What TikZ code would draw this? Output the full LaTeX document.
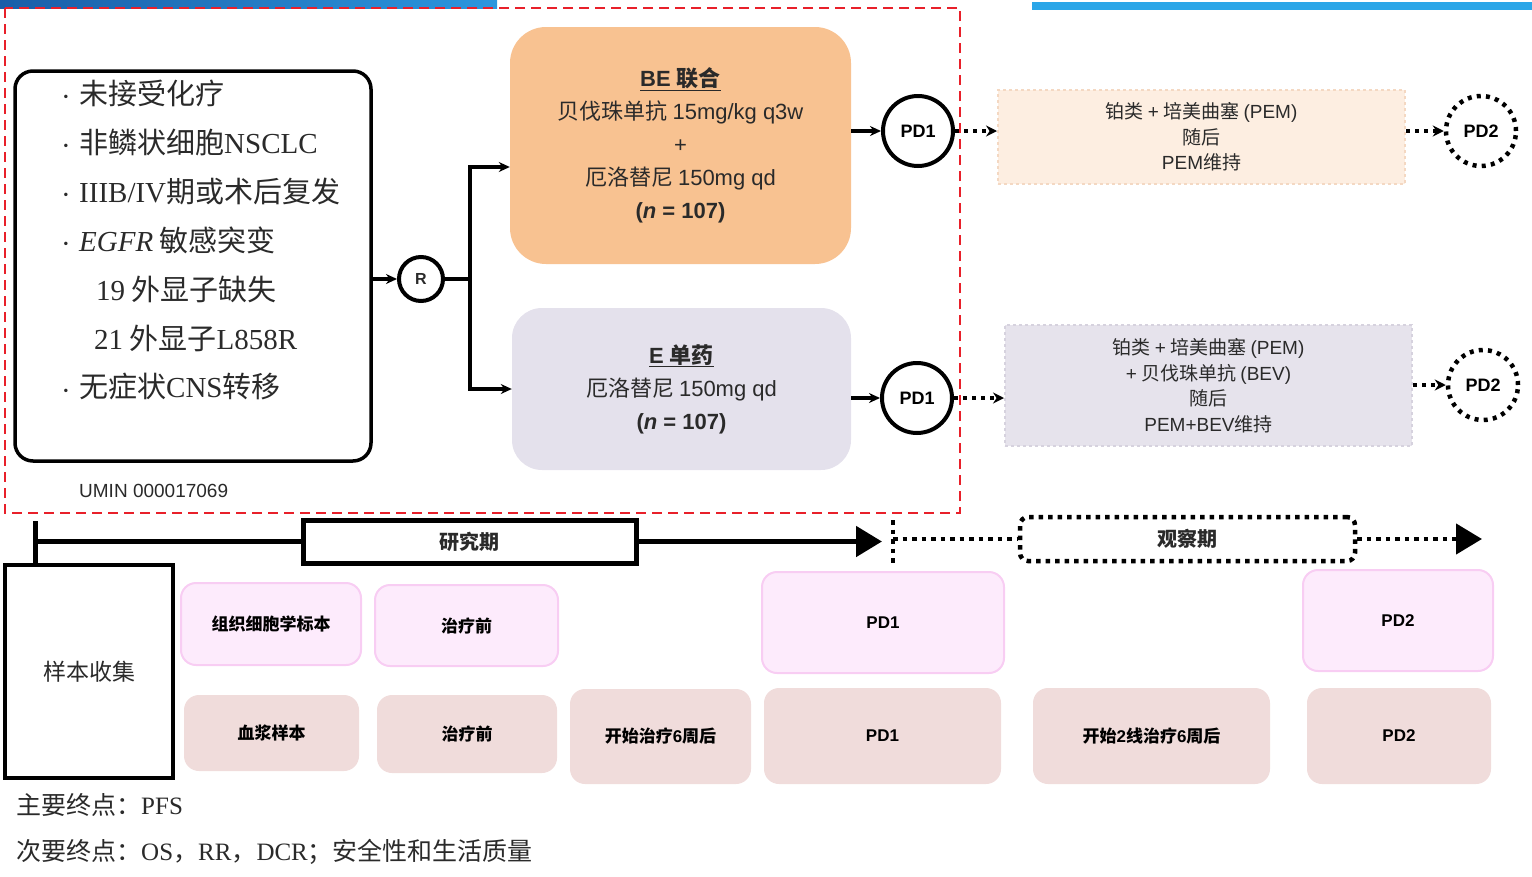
\documentclass[tikz,border=0pt]{standalone}
\usepackage{fontspec}
\setmainfont{Noto Sans CJK SC}
\newfontfamily\ls{Liberation Sans}
\newfontfamily\ser{Liberation Serif}
\usetikzlibrary{arrows.meta,calc}
\definecolor{barA}{HTML}{1A5EA8}
\definecolor{barB}{HTML}{2B96DE}
\definecolor{barC}{HTML}{2AA6E8}
\definecolor{redd}{HTML}{E8202A}
\definecolor{orng}{HTML}{F8C291}
\definecolor{lgray}{HTML}{E4E1EC}
\definecolor{peach}{HTML}{FDEEE1}
\definecolor{peachB}{HTML}{F4D8C2}
\definecolor{lav}{HTML}{E6E3EC}
\definecolor{lavB}{HTML}{D6D2DE}
\definecolor{pinkF}{HTML}{FDEBFC}
\definecolor{pinkB}{HTML}{F8CDF3}
\definecolor{brwn}{HTML}{F0DCDB}
\definecolor{txt}{HTML}{2A2A2A}
\begin{document}
\begin{tikzpicture}[x=1pt,y=-1pt,
  crit/.style={draw=black,line width=3.5,rounded corners=18,inner sep=0},
  crittext/.style={anchor=west,inner sep=0,text=txt,font=\fontsize{29}{34}\selectfont},
  bullet/.style={inner sep=0,text=txt,font=\ser\fontsize{29}{34}\selectfont},
  conn/.style={line width=3.5,-{Stealth[length=11,width=10]}},
  plain/.style={line width=3.5},
  pdc/.style={circle,draw=black,line width=4,minimum size=70,inner sep=0,font=\ls\bfseries\fontsize{18}{20}\selectfont},
  pdd/.style={circle,draw=black,line width=4.5,dash pattern=on 4 off 5.2,minimum size=70,inner sep=0,font=\ls\bfseries\fontsize{18}{20}\selectfont},
  dotconn/.style={line width=4,dash pattern=on 4 off 5,-{Stealth[length=11,width=11]}},
  armbox/.style={rounded corners=36,inner sep=0,align=center,text=txt,font=\fontsize{22}{33}\selectfont},
  dbox/.style={line width=2,dash pattern=on 3 off 3,inner sep=0,align=center,text=txt,font=\fontsize{19}{25.5}\selectfont},
  tl/.style={line width=5},
  dotl/.style={line width=4.5,dash pattern=on 4.5 off 5},
  pinkbox/.style={fill=pinkF,draw=pinkB,line width=2,rounded corners=15,inner sep=0,font=\bfseries\fontsize{17}{20}\selectfont,text=black},
  brbox/.style={fill=brwn,rounded corners=15,inner sep=0,font=\bfseries\fontsize{17}{20}\selectfont,text=black},
]
\useasboundingbox (0,0) rectangle (1532,876);
% top bars
\shade[left color=barA,right color=barB] (0,0) rectangle (497,8);
\fill[barC] (1032,2) rectangle (1532,10);
% red dashed frame
\draw[redd,line width=2.5,dash pattern=on 10 off 6] (5,8) rectangle (960,513);

% criteria box
\node[crit,minimum width=356,minimum height=390] (crit) at (193,266) {};
\foreach \i/\y in {1/93,2/142,3/191,4/240,7/387}{
  \node[bullet] (b\i) at (66,\y+8) {·};
}
\node[crittext] (c1) at (79,93) {未接受化疗};
\node[crittext] (c2) at (79,142) {非鳞状细胞{\ser NSCLC}};
\node[crittext] (c3) at (79,191) {{\ser IIIB/IV}期或术后复发};
\node[crittext] (c4) at (79,240) {{\ser\itshape EGFR} 敏感突变};
\node[crittext] (c5) at (96,289) {{\ser 19} 外显子缺失};
\node[crittext] (c6) at (94,338) {{\ser 21} 外显子{\ser L858R}};
\node[crittext] (c7) at (79,387) {无症状{\ser CNS}转移};
\node[anchor=west,inner sep=0,text=txt,font=\ls\fontsize{19}{22}\selectfont] (umin) at (79,491) {UMIN 000017069};

% randomisation
\node[circle,draw=black,line width=4,minimum size=44,inner sep=0,font=\ls\bfseries\fontsize{16}{18}\selectfont,text=txt] (R) at (421,279) {R};
\draw[conn] (crit.east |- R.west) -- (R.west);
\coordinate (br) at (470,279);
\draw[plain] (R.east) -- (br);

% arms
\node[armbox,fill=orng,minimum width=341,minimum height=237] (be) at (680.5,145.5)
  {{\ls\bfseries\underline{BE \mbox{\rmfamily\bfseries 联合}}}\\贝伐珠单抗 {\ls 15mg/kg q3w}\\{\ls +}\\厄洛替尼 {\ls 150mg qd}\\{\ls\bfseries (\textit{n} = 107)}};
\node[armbox,rounded corners=30,fill=lgray,minimum width=339,minimum height=162] (ge) at (681.5,389)
  {{\ls\bfseries\underline{E \mbox{\rmfamily\bfseries 单药}}}\\厄洛替尼 {\ls 150mg qd}\\{\ls\bfseries (\textit{n} = 107)}};
\draw[conn] (br) |- ($(be.west)+(0,21.5)$);
\draw[conn] (br) |- (ge.west);

% PD1 circles
\node[pdc] (p1) at (918,131) {PD1};
\node[pdc] (p2) at (917,398) {PD1};
\draw[conn,line width=4] (be.east |- p1.west) -- (p1.west);
\draw[conn,line width=4] (ge.east |- p2.west) -- (p2.west);

% second-line boxes
\node[dbox,fill=peach,draw=peachB,minimum width=407,minimum height=94] (tb) at (1201.5,137)
  {铂类 {\ls +} 培美曲塞 {\ls (PEM)}\\随后\\{\ls PEM}维持};
\node[dbox,fill=lav,draw=lavB,minimum width=407,minimum height=121] (bb) at (1208.5,385.5)
  {铂类 {\ls +} 培美曲塞 {\ls (PEM)}\\{\ls +} 贝伐珠单抗 {\ls (BEV)}\\随后\\{\ls PEM+BEV}维持};
\draw[dotconn] (p1.east) -- (p1.east -| tb.west);
\draw[dotconn] (p2.east) -- (p2.east -| bb.west);

% PD2 circles
\node[pdd] (q1) at (1481,131) {PD2};
\node[pdd] (q2) at (1483,385) {PD2};
\draw[dotconn] (tb.east |- q1.west) -- (q1.west);
\draw[dotconn] (bb.east |- q2.west) -- (q2.west);

% timeline
\node[draw=black,line width=3.5,minimum width=168,minimum height=213,inner sep=0,text=txt,font=\fontsize{23}{26}\selectfont] (smp) at (89,671.5) {样本收集};
\coordinate (ttop) at (35,521);
\draw[tl] (ttop) -- (ttop |- smp.north);
\node[draw=black,line width=5,minimum width=333,minimum height=43,inner sep=0,text=txt,font=\bfseries\fontsize{20}{22}\selectfont] (study) at (469.5,541.5) {研究期};
\draw[tl] (ttop |- study.west) -- (study.west);
\coordinate (tend) at (882,541.5);
\draw[tl,-{Triangle[length=26,width=30]}] (study.east) -- (tend);

\coordinate (otop) at (893,520);
\coordinate (obot) at (893,565);
\draw[dotl] (otop) -- (obot);
\node[draw=black,dotl,rounded corners=8,minimum width=335,minimum height=44,inner sep=0,text=txt,font=\bfseries\fontsize{20}{22}\selectfont] (obs) at (1187.5,539) {观察期};
\draw[dotl] (otop |- obs.west) -- (obs.west);
\coordinate (oend) at (1482,539);
\draw[dotl,-{Triangle[length=26,width=30]}] (obs.east) -- (oend);

% sample boxes
\node[pinkbox,minimum width=180,minimum height=82] (s1) at (271,624) {组织细胞学标本};
\node[pinkbox,minimum width=183,minimum height=81] (s2) at (466.5,625.5) {治疗前};
\node[pinkbox,minimum width=242,minimum height=101] (s3) at (883,622.5) {\ls\bfseries PD1};
\node[pinkbox,minimum width=190,minimum height=101] (s4) at (1398,620.5) {\ls\bfseries PD2};
\node[brbox,minimum width=175,minimum height=76] (r1) at (271.5,733) {血浆样本};
\node[brbox,minimum width=180,minimum height=78] (r2) at (467,734) {治疗前};
\node[brbox,minimum width=181,minimum height=95] (r3) at (660.5,736.5) {开始治疗{\ls 6}周后};
\node[brbox,minimum width=237,minimum height=96] (r4) at (882.5,736) {\ls\bfseries PD1};
\node[brbox,minimum width=237,minimum height=96] (r5) at (1151.5,736) {开始{\ls 2}线治疗{\ls 6}周后};
\node[brbox,minimum width=184,minimum height=96] (r6) at (1399,736) {\ls\bfseries PD2};

% endpoints
\node[anchor=west,inner sep=0,text=txt,font=\fontsize{25}{28}\selectfont] (e1) at (16,805) {主要终点：{\ser PFS}};
\node[anchor=west,inner sep=0,text=txt,font=\fontsize{25}{28}\selectfont] (e2) at (16,852) {次要终点：{\ser OS}，{\ser RR}，{\ser DCR}；安全性和生活质量};
\end{tikzpicture}
\end{document}
